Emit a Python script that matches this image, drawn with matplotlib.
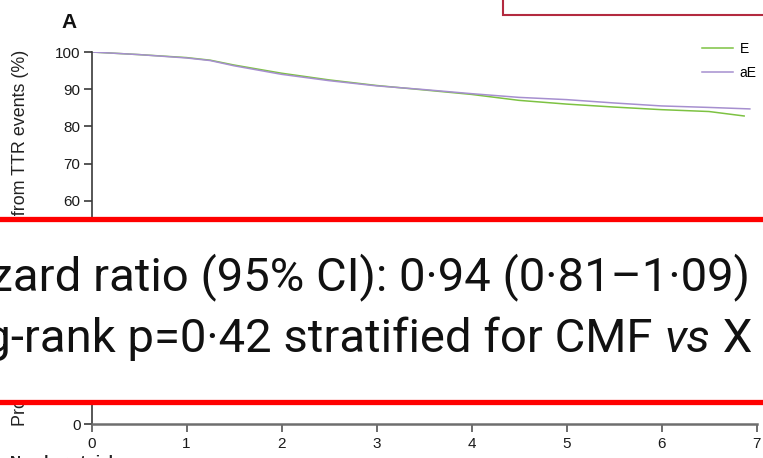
import matplotlib
matplotlib.use('Agg')
import matplotlib.pyplot as plt
from matplotlib.patches import Rectangle

plt.rcParams['font.family'] = ['Liberation Sans', 'DejaVu Sans']

# Kaplan-Meier style curves
years = [0, 0.5, 1, 1.25, 1.5, 2, 2.5, 3, 3.5, 4, 4.5, 5, 5.5, 6, 6.5]
e_vals = [100, 99.3, 98.5, 97.8, 96.5, 94.3, 92.5, 91.0, 89.8, 88.6, 87.0, 86.0, 85.2, 84.5, 84.0]
ae_vals = [100, 99.3, 98.4, 97.7, 96.3, 94.0, 92.3, 90.9, 89.9, 88.8, 87.8, 87.2, 86.3, 85.5, 85.1]
e_end = (6.87, 82.8)
ae_end = (6.93, 84.7)

x_ticks = [0, 1, 2, 3, 4, 5, 6, 7]
y_ticks = [0, 10, 20, 30, 40, 50, 60, 70, 80, 90, 100]

hr_line = 'Hazard ratio (95% CI): 0·94 (0·81–1·09)'
lr_parts = ['Log-rank p=0·42 stratified for CMF ', 'vs', ' X']

W, H = 763, 458
fig = plt.figure(figsize=(W / 100, H / 100), dpi=100)


def fx(px):
    return px / W


def fy(py):
    return 1 - py / H


ax = fig.add_axes([fx(91.5), fy(424), fx(756.5) - fx(91.5), fy(52) - fy(424)])

ax.plot(years + [e_end[0]], e_vals + [e_end[1]], color='#7dc242', lw=1.1, label='E')
ax.plot(years + [ae_end[0]], ae_vals + [ae_end[1]], color='#a68fcf', lw=1.1, label='aE')

ax.set_xlim(0, 7)
ax.set_ylim(0, 100)
ax.set_xticks(x_ticks)
ax.set_yticks(y_ticks)
for s in ['top', 'right']:
    ax.spines[s].set_visible(False)
ax.spines['left'].set_color('#3a3a3a')
ax.spines['left'].set_linewidth(1.2)
ax.spines['bottom'].set_color('#6e6e6e')
ax.spines['bottom'].set_linewidth(1.8)
ax.tick_params(axis='y', length=6, width=1.2, color='#3a3a3a', labelsize=11,
               labelcolor='#1a1a1a', pad=2)
ax.tick_params(axis='x', length=6, width=1.2, color='#555555', labelsize=11,
               labelcolor='#1a1a1a', pad=3)
ax.patch.set_alpha(0)

leg = ax.legend(loc='upper left', bbox_to_anchor=(fx(702), fy(42)),
                bbox_transform=fig.transFigure, frameon=False, fontsize=10,
                handlelength=2.2, handletextpad=0.5, labelspacing=0.7,
                borderpad=0, borderaxespad=0)

fig.text(fx(69), fy(23), 'A', ha='center', va='center', fontsize=15,
         fontweight='bold', color='#111111')
fig.text(fx(21), fy(237.5), 'Proportion of patients free from TTR events (%)',
         rotation=90, ha='center', va='center', fontsize=12.9, color='#222222')
fig.text(fx(10), fy(455), 'Number at risk', ha='left', va='top', fontsize=11,
         fontweight='bold', color='#222222')

# dark red frame at top right
fig.patches.append(Rectangle((fx(503), fy(15)), 0.5, 0.2, transform=fig.transFigure,
                             facecolor='white', edgecolor='#b32a3f', lw=1.5, zorder=5))

# white overlay box with red rules
fig.patches.append(Rectangle((-0.05, fy(402)), 1.1, fy(219) - fy(402),
                             transform=fig.transFigure, facecolor='white',
                             edgecolor='#ff0000', lw=3.8, zorder=5))

big = dict(fontsize=34, family=['Roboto'], fontstretch='normal',
           color='#111111', zorder=6)
fig.text(fx(750), fy(290), hr_line, ha='right', va='baseline', **big)

# second line: right aligned, with italic "vs"
renderer = fig.canvas.get_renderer()
right = 752
for part, style in zip(lr_parts[::-1], ['normal', 'italic', 'normal']):
    t = fig.text(fx(right), fy(352), part, ha='right', va='baseline', style=style, **big)
    bb = t.get_window_extent(renderer)
    right = bb.x0

fig.savefig('out.png', dpi=100)
